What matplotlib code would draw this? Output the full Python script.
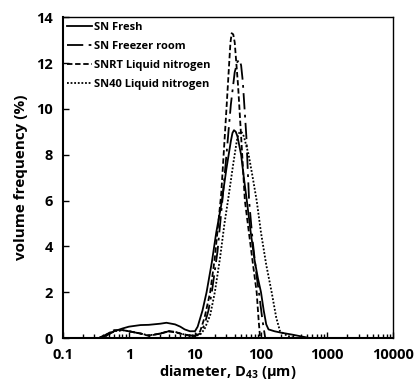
import numpy as np
import matplotlib
matplotlib.use("Agg")
import matplotlib.pyplot as plt
from matplotlib.ticker import LogLocator, FixedLocator, NullFormatter

plt.rcParams['font.family'] = ['Open Sans', 'DejaVu Sans']
plt.rcParams['font.weight'] = 'bold'
plt.rcParams['mathtext.fontset'] = 'custom'
plt.rcParams['mathtext.bf'] = 'Open Sans:bold'
plt.rcParams['mathtext.rm'] = 'Open Sans:bold'
plt.rcParams['mathtext.default'] = 'bf'

# SN Fresh (solid)
d_fresh = [0.35, 0.45, 0.6, 0.8, 1, 1.5, 2, 3, 3.7, 5, 6, 7, 8.4, 10, 11, 13, 15, 18, 21, 25,
           30, 35, 37, 39, 41.5, 44, 50, 55, 61, 70, 80, 90, 100, 110, 120, 130, 160, 200, 300,
           400, 490, 550]
v_fresh = [0, 0.15, 0.3, 0.42, 0.5, 0.57, 0.58, 0.63, 0.67, 0.6, 0.5, 0.38, 0.3, 0.3, 0.5, 1.2,
           2.0, 3.3, 4.6, 5.8, 7.4, 8.6, 8.95, 9.07, 9.0, 8.8, 8.0, 7.0, 6.0, 4.6, 3.4, 2.6, 2.0,
           1.2, 0.6, 0.38, 0.3, 0.24, 0.15, 0.08, 0.03, 0]

# SN Freezer room (dash-dot)
d_freezer = [0.35, 0.45, 0.6, 0.8, 1, 1.5, 2, 3, 4, 5, 6, 8, 10, 12, 14, 16, 18, 22, 26, 30,
             35, 40, 44, 47, 50, 53, 60, 66, 75, 85, 93, 105, 116]
v_freezer = [0, 0.1, 0.3, 0.35, 0.3, 0.2, 0.12, 0.2, 0.3, 0.28, 0.2, 0.12, 0.1, 0.2, 0.6, 1.2,
             2.0, 3.8, 6.0, 8.0, 10.2, 11.6, 12.05, 12.15, 11.9, 11.2, 8.8, 6.0, 4.2, 2.8, 2.0,
             0.8, 0]

# SNRT Liquid nitrogen (dashed)
d_snrt = [0.35, 0.45, 0.6, 0.8, 1, 1.5, 2, 3, 4, 5, 6, 8, 10, 12, 14, 17, 20, 25, 30, 33,
          34.5, 36, 38, 40, 45, 50, 57, 65, 75, 86, 92, 97]
v_snrt = [0, 0.15, 0.35, 0.35, 0.3, 0.2, 0.1, 0.2, 0.3, 0.25, 0.2, 0.12, 0.1, 0.3, 0.9, 2.0,
          3.5, 6.3, 10.0, 12.0, 12.9, 13.3, 13.25, 12.9, 11.0, 8.8, 6.0, 4.7, 3.3, 2.0, 0.8, 0]

# SN40 Liquid nitrogen (dotted)
d_sn40 = [0.35, 0.45, 0.6, 0.8, 1, 1.5, 2, 3, 4, 5, 6, 8, 10, 12, 14, 17, 20, 24, 28, 32,
          38, 43, 45.5, 48, 51, 55, 65, 75, 86, 100, 120, 145, 170, 194, 250, 330]
v_sn40 = [0, 0.1, 0.3, 0.35, 0.3, 0.2, 0.12, 0.2, 0.3, 0.28, 0.2, 0.12, 0.1, 0.15, 0.4, 1.0,
          2.0, 3.5, 5.0, 6.1, 7.6, 8.6, 8.9, 9.0, 8.98, 8.8, 8.0, 7.0, 6.0, 4.6, 3.2, 2.0, 0.9,
          0.3, 0.1, 0]

x_ticks = [0.1, 1, 10, 100, 1000, 10000]
x_labels = ['0.1', '1', '10', '100', '1000', '10000']
y_ticks = [0, 2, 4, 6, 8, 10, 12, 14]

fig = plt.figure(figsize=(4.16, 3.9), dpi=100)
ax = fig.add_axes([0.151, 0.133, 0.794, 0.823])

lw = 1.3
ax.plot(d_fresh, v_fresh, color='black', lw=lw, ls='-', label='SN Fresh')
ax.plot(d_freezer, v_freezer, color='black', lw=lw, ls=(0, (9, 3, 1.5, 3)), label='SN Freezer room')
ax.plot(d_snrt, v_snrt, color='black', lw=lw, ls=(0, (3, 1.5)), label='SNRT Liquid nitrogen')
ax.plot(d_sn40, v_sn40, color='black', lw=lw, ls=(0, (1, 1)), label='SN40 Liquid nitrogen')

ax.set_xscale('log')
ax.set_xlim(0.1, 10000)
ax.set_ylim(0, 14)
ax.xaxis.set_major_locator(FixedLocator(x_ticks))
ax.set_xticklabels(x_labels)
ax.xaxis.set_minor_locator(LogLocator(base=10, subs=np.arange(2, 10)))
ax.xaxis.set_minor_formatter(NullFormatter())
ax.set_yticks(y_ticks)

ax.tick_params(axis='both', which='major', direction='in', length=4, width=1,
               labelsize=10.5, pad=7)
ax.tick_params(axis='x', which='minor', direction='in', length=3, width=1)
for lab in ax.get_xticklabels() + ax.get_yticklabels():
    lab.set_fontweight('bold')

for sp in ax.spines.values():
    sp.set_linewidth(1.0)
ax.spines['left'].set_linewidth(1.5)
ax.spines['bottom'].set_linewidth(1.5)

ax.set_xlabel('diameter, D$_{43}$ (µm)', fontsize=10.5, fontweight='bold', labelpad=1)
ax.set_ylabel('volume frequency (%)', fontsize=11, fontweight='bold', labelpad=6)

leg = ax.legend(loc='upper left', frameon=False, fontsize=8, handlelength=2.2,
                handletextpad=0.2, labelspacing=0.72, borderaxespad=0.3, borderpad=0.1)
for t in leg.get_texts():
    t.set_fontweight('bold')

fig.savefig('out.png', dpi=100)
